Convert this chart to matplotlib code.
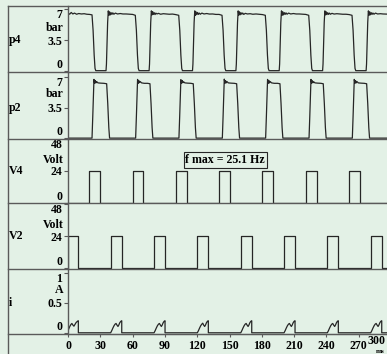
import matplotlib
matplotlib.use("Agg")
import matplotlib.pyplot as plt
from matplotlib.lines import Line2D

# ---- data (time in ms) ----
p4_t = [0, 1.5, 3, 4.5, 6, 8, 10, 12.5, 15, 17.5, 20, 22.3,
        23.3, 24.3, 25.1, 25.8, 35.3, 35.7, 36.8, 37.4,
        38.0, 38.6, 39.3, 40.0, 40.8, 41.6, 42.6, 44.0, 46.0, 48.5, 51.0, 54.0, 57.0, 60.0, 62.5,
        63.5, 64.5, 65.3, 66.0, 75.3, 75.7, 76.8, 77.4,
        78.0, 78.6, 79.3, 80.0, 80.8, 81.6, 82.6, 84.0, 86.0, 88.5, 91.0, 94.0, 97.0, 100.0, 102.8,
        103.8, 104.8, 105.6, 106.3, 115.6, 116.0, 117.1, 117.7,
        118.3, 118.9, 119.6, 120.3, 121.1, 121.9, 122.9, 124.3, 126.3, 128.8, 131.3, 134.3, 137.3, 140.3, 143.0,
        144.0, 145.0, 145.8, 146.5, 155.9, 156.3, 157.4, 158.0,
        158.6, 159.2, 159.9, 160.6, 161.4, 162.2, 163.2, 164.6, 166.6, 169.1, 171.6, 174.6, 177.6, 180.6, 183.2,
        184.2, 185.2, 186.0, 186.7, 196.1, 196.5, 197.6, 198.2,
        198.8, 199.4, 200.1, 200.8, 201.6, 202.4, 203.4, 204.8, 206.8, 209.3, 211.8, 214.8, 217.8, 220.8, 223.5,
        224.5, 225.5, 226.3, 227.0, 236.4, 236.8, 237.9, 238.5,
        239.1, 239.7, 240.4, 241.1, 241.9, 242.7, 243.7, 245.1, 247.1, 249.6, 252.1, 255.1, 258.1, 261.1, 263.7,
        264.7, 265.7, 266.5, 267.2, 276.8, 277.2, 278.3, 278.9,
        279.5, 280.1, 280.8, 281.5, 282.3, 283.1, 284.1, 285.5, 287.5, 290.0, 292.5, 295.5, 298.5, 302.0, 310.0]
p4_v = [6.55, 6.42, 6.62, 6.45, 6.55, 6.42, 6.5, 6.45, 6.48, 6.42, 6.4, 6.35,
        4.6, 1.8, 0.3, 0.05, 0.05, 0.8, 5.5, 6.8,
        6.3, 6.7, 6.35, 6.6, 6.4, 6.58, 6.42, 6.55, 6.45, 6.5, 6.45, 6.45, 6.42, 6.4, 6.3,
        4.6, 1.8, 0.3, 0.05, 0.05, 0.8, 5.5, 6.8,
        6.35, 6.72, 6.4, 6.6, 6.38, 6.55, 6.45, 6.52, 6.42, 6.48, 6.45, 6.42, 6.44, 6.38, 6.3,
        4.6, 1.8, 0.3, 0.05, 0.05, 0.8, 5.5, 6.8,
        6.3, 6.68, 6.38, 6.62, 6.4, 6.55, 6.42, 6.55, 6.45, 6.5, 6.44, 6.45, 6.4, 6.4, 6.3,
        4.6, 1.8, 0.3, 0.05, 0.05, 0.8, 5.5, 6.8,
        6.32, 6.7, 6.36, 6.6, 6.42, 6.56, 6.4, 6.52, 6.45, 6.48, 6.42, 6.45, 6.42, 6.38, 6.3,
        4.6, 1.8, 0.3, 0.05, 0.05, 0.8, 5.5, 6.8,
        6.3, 6.7, 6.35, 6.6, 6.4, 6.58, 6.42, 6.55, 6.45, 6.5, 6.45, 6.45, 6.42, 6.4, 6.3,
        4.6, 1.8, 0.3, 0.05, 0.05, 0.8, 5.5, 6.8,
        6.35, 6.7, 6.38, 6.6, 6.4, 6.55, 6.42, 6.52, 6.44, 6.48, 6.45, 6.42, 6.42, 6.38, 6.3,
        4.6, 1.8, 0.3, 0.05, 0.05, 0.8, 5.5, 6.8,
        6.3, 6.7, 6.36, 6.6, 6.4, 6.56, 6.42, 6.55, 6.45, 6.48, 6.45, 6.44, 6.42, 6.4, 6.4]

p2_t = [0,
        22.3, 23.0, 24.1, 24.7, 25.3, 25.9, 26.6, 27.8, 30.3, 33.3, 35.9, 36.9, 37.9, 38.6,
        62.8, 63.5, 64.6, 65.2, 65.8, 66.4, 67.1, 68.3, 70.8, 73.8, 76.1, 77.1, 78.1, 78.8,
        103.0, 103.7, 104.8, 105.4, 106.0, 106.6, 107.3, 108.5, 111.0, 114.0, 116.3, 117.3, 118.3, 119.0,
        143.3, 144.0, 145.1, 145.7, 146.3, 146.9, 147.6, 148.8, 151.3, 154.3, 156.6, 157.6, 158.6, 159.3,
        183.5, 184.2, 185.3, 185.9, 186.5, 187.1, 187.8, 189.0, 191.5, 194.5, 196.8, 197.8, 198.8, 199.5,
        223.8, 224.5, 225.6, 226.2, 226.8, 227.4, 228.1, 229.3, 231.8, 234.8, 237.0, 238.0, 239.0, 239.7,
        264.0, 264.7, 265.8, 266.4, 267.0, 267.6, 268.3, 269.5, 272.0, 275.0, 277.3, 278.3, 279.3, 280.0,
        310.0]
p2_v = [0,
        0, 2.5, 6.75, 6.3, 6.62, 6.35, 6.5, 6.35, 6.32, 6.3, 6.25, 4.0, 1.2, 0,
        0, 2.5, 6.75, 6.3, 6.6, 6.38, 6.5, 6.35, 6.3, 6.3, 6.25, 4.0, 1.2, 0,
        0, 2.5, 6.72, 6.32, 6.62, 6.36, 6.48, 6.35, 6.32, 6.3, 6.25, 4.0, 1.2, 0,
        0, 2.5, 6.78, 6.3, 6.6, 6.35, 6.5, 6.35, 6.32, 6.3, 6.25, 4.0, 1.2, 0,
        0, 2.5, 6.75, 6.3, 6.62, 6.35, 6.5, 6.35, 6.3, 6.3, 6.25, 4.0, 1.2, 0,
        0, 2.5, 6.75, 6.32, 6.6, 6.36, 6.48, 6.35, 6.32, 6.3, 6.25, 4.0, 1.2, 0,
        0, 2.5, 6.75, 6.3, 6.6, 6.35, 6.5, 6.35, 6.32, 6.3, 6.25, 4.0, 1.2, 0,
        0]

v4_on = [19.5, 59.9, 100.1, 140.3, 180.5, 220.8, 261.0]
v4_off = [29.7, 69.9, 110.2, 150.4, 190.6, 230.8, 270.9]
v2_on = [0.0, 39.6, 79.9, 120.1, 160.4, 200.6, 240.8, 281.1]
v2_off = [9.6, 49.9, 90.1, 130.3, 170.6, 210.8, 251.0, 291.3]
v_level = 24

i_t = [0, 0.8, 1.8, 2.8, 3.6, 4.5, 5.5, 6.5, 7.5, 8.7, 9.6, 9.6,
       39.6, 40.6, 41.7, 42.8, 43.8, 44.6, 45.4, 46.4, 47.2, 48.0, 49.0, 49.9, 49.9,
       79.9, 80.9, 82.0, 83.1, 84.1, 84.9, 85.7, 86.7, 87.5, 88.3, 89.2, 90.1, 90.1,
       120.1, 121.1, 122.2, 123.3, 124.3, 125.1, 125.9, 126.9, 127.7, 128.5, 129.4, 130.3, 130.3,
       160.4, 161.4, 162.5, 163.6, 164.6, 165.4, 166.2, 167.2, 168.0, 168.8, 169.7, 170.6, 170.6,
       200.6, 201.6, 202.7, 203.8, 204.8, 205.6, 206.4, 207.4, 208.2, 209.0, 209.9, 210.8, 210.8,
       240.8, 241.8, 242.9, 244.0, 245.0, 245.8, 246.6, 247.6, 248.4, 249.2, 250.1, 251.0, 251.0,
       281.1, 282.1, 283.2, 284.3, 285.3, 286.1, 286.9, 287.9, 288.7, 289.5, 290.4, 291.3, 291.3,
       310.0]
i_v = [0.03, 0.07, 0.11, 0.14, 0.155, 0.13, 0.11, 0.14, 0.17, 0.19, 0.2, 0,
       0, 0.035, 0.08, 0.12, 0.145, 0.155, 0.13, 0.105, 0.13, 0.165, 0.19, 0.2, 0,
       0, 0.035, 0.08, 0.12, 0.145, 0.155, 0.13, 0.105, 0.13, 0.165, 0.19, 0.2, 0,
       0, 0.035, 0.08, 0.12, 0.145, 0.16, 0.13, 0.105, 0.13, 0.165, 0.19, 0.2, 0,
       0, 0.035, 0.08, 0.12, 0.145, 0.155, 0.13, 0.105, 0.13, 0.165, 0.19, 0.2, 0,
       0, 0.035, 0.08, 0.12, 0.145, 0.155, 0.13, 0.105, 0.13, 0.165, 0.19, 0.2, 0,
       0, 0.035, 0.08, 0.12, 0.145, 0.155, 0.13, 0.105, 0.13, 0.165, 0.19, 0.2, 0,
       0, 0.035, 0.08, 0.12, 0.145, 0.155, 0.13, 0.105, 0.13, 0.165, 0.19, 0.2, 0,
       0]

x_ticks = [0, 30, 60, 90, 120, 150, 180, 210, 240, 270]
last_tick = '300'

names = ['p4', 'p2', 'V4', 'V2', 'i']
units = ['bar', 'bar', 'Volt', 'Volt', 'A']
y_ticks = [[0, 3.5, 7], [0, 3.5, 7], [0, 24, 48], [0, 24, 48], [0, 0.5, 1]]
y_ticklabels = [['0', '3.5', '7'], ['0', '3.5', '7'], ['0', '24', '48'], ['0', '24', '48'], ['0', '0.5', '1']]
y_lims = [(-0.1, 7.35), (-0.1, 7.6), (-0.3, 48), (-0.5, 48.5), (-0.02, 1.06)]


def steps(on, off, level):
    xs, ys = [0], [0]
    for a, b in zip(on, off):
        xs += [a, a, b, b]
        ys += [0, level, level, 0]
    xs.append(310)
    ys.append(0)
    return xs, ys


BG = '#e3f1e6'
INK = '#262626'
FRAME = '#5a5a5a'
W, H = 387, 354
font = dict(family='Liberation Serif', weight='bold', size=8.6)

fig = plt.figure(figsize=(W / 100, H / 100), dpi=100, facecolor=BG)

# panel rows in pixels (top, bottom)
rows = [(6, 72), (72, 139), (139, 203), (203, 269), (269, 334)]
x0 = 68
px_per_ms = 1.077
xmax = 310

v4_x, v4_y = steps(v4_on, v4_off, v_level)
v2_x, v2_y = steps(v2_on, v2_off, v_level)
series = [(p4_t, p4_v), (p2_t, p2_v), (v4_x, v4_y), (v2_x, v2_y), (i_t, i_v)]

axes = []
for k, (top, bot) in enumerate(rows):
    ax = fig.add_axes([x0 / W, 1 - bot / H, xmax * px_per_ms / W, (bot - top) / H])
    ax.patch.set_alpha(0)
    t, v = series[k]
    ax.plot(t, v, color=INK, lw=0.9)
    ax.set_xlim(0, xmax)
    ax.set_ylim(*y_lims[k])
    for s in ['top', 'right', 'bottom']:
        ax.spines[s].set_visible(False)
    ax.spines['left'].set_color(FRAME)
    ax.spines['left'].set_linewidth(1.0)
    ax.set_yticks(y_ticks[k])
    ax.set_yticklabels(y_ticklabels[k], fontdict=font)
    ax.tick_params(axis='y', direction='out', length=3, width=0.8, pad=1, color=FRAME)
    labs = ax.get_yticklabels()
    labs[0].set_verticalalignment('bottom')
    labs[-1].set_verticalalignment('top')
    if k < 4:
        ax.set_xticks([])
    axes.append(ax)

    # unit between the two upper ticks, panel name at the middle tick
    uy = top + (bot - top) * 0.33
    fig.text(64 / W, 1 - uy / H, units[k], ha='right', va='center', **font)
    my = ax.transData.transform((0, y_ticks[k][1]))[1] / fig.dpi / (H / 100)
    fig.text(9 / W, my, names[k], ha='left', va='center', **font)

axb = axes[-1]
axb.spines['bottom'].set_visible(True)
axb.spines['bottom'].set_color(FRAME)
axb.set_xticks(x_ticks)
axb.set_xticklabels([str(x) for x in x_ticks], fontdict=font)
axb.tick_params(axis='x', direction='out', length=2, width=0.8, pad=2, color=FRAME)
# the 300 label sits at the right edge, pulled in so it stays on the page
fig.text(386 / W, 1 - 341.5 / H, last_tick, ha='right', va='center', **font)
fig.text(385 / W, 0.0, 'ms', ha='right', va='bottom',
         family='Liberation Serif', weight='bold', size=5)

# outer frame and panel separators
for top, bot in rows:
    fig.add_artist(Line2D([8 / W, 1], [1 - top / H] * 2, color=FRAME, lw=1.0))
fig.add_artist(Line2D([8 / W, 1], [1 - 334 / H] * 2, color=FRAME, lw=1.0))
fig.add_artist(Line2D([8 / W, 8 / W], [1 - 6 / H, 0], color=FRAME, lw=1.0))

axes[2].text(146, 32, 'f max = 25.1 Hz', ha='center', va='center',
             bbox=dict(boxstyle='square,pad=0.15', fc=BG, ec=INK, lw=0.8), **font)

fig.savefig('out.png', dpi=100, facecolor=BG)
